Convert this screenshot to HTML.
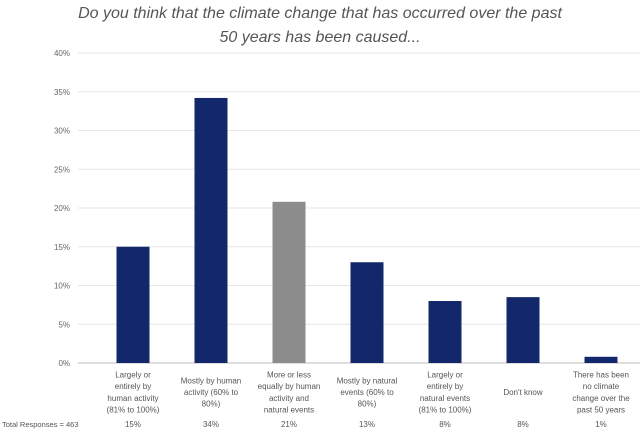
<!DOCTYPE html>
<html><head><meta charset="utf-8"><style>
body{margin:0;background:#fff;width:640px;height:433px;overflow:hidden;font-family:"Liberation Sans",sans-serif}
</style></head><body>
<svg id="chart" width="640" height="433" viewBox="0 0 640 433" xmlns="http://www.w3.org/2000/svg">
<text x="320" y="18" text-anchor="middle" font-size="16" font-style="italic" fill="#555">Do you think that the climate change that has occurred over the past</text>
<text x="320" y="42" text-anchor="middle" font-size="16" font-style="italic" fill="#555">50 years has been caused...</text>
<g id="grid"></g><g id="bars"></g><g id="labels"></g>
</svg>
<script>
const categories=[["Largely or","entirely by","human activity","(81% to 100%)"],["Mostly by human","activity (60% to","80%)"],["More or less","equally by human","activity and","natural events"],["Mostly by natural","events (60% to","80%)"],["Largely or","entirely by","natural events","(81% to 100%)"],["Don't know"],["There has been","no climate","change over the","past 50 years"]];
const values=[15,34.2,20.8,13,8,8.5,0.8];
const printed=["15%","34%","21%","13%","8%","8%","1%"];
const colors=["#13286a","#13286a","#8c8c8c","#13286a","#13286a","#13286a","#13286a"];
const ticks=[0,5,10,15,20,25,30,35,40];
const NS="http://www.w3.org/2000/svg";
const y0=363,pxPer=7.75,x0=94,cw=78,bw=33,lh=11.7;
const yS=v=>y0-v*pxPer, xC=i=>x0+cw*i+cw/2;
function mk(t,a,p){const e=document.createElementNS(NS,t);for(const k in a)e.setAttribute(k,a[k]);p.appendChild(e);return e;}
const g=document.getElementById('grid'),b=document.getElementById('bars'),l=document.getElementById('labels');
ticks.forEach(t=>{
 const ln=mk('line',{x1:78,x2:640,y1:yS(t),y2:yS(t),stroke:t===0?'#bbb':'#e6e6e6','stroke-width':1},g);
 
 
 const tx=mk('text',{x:70,y:yS(t)+3,'text-anchor':'end','font-size':8,fill:'#666'},g);tx.textContent=t+'%';
 
 
});
values.forEach((v,i)=>{
 const r=mk('rect',{x:xC(i)-bw/2,y:yS(v),width:bw,height:v*pxPer,fill:colors[i]},b);
 
 
 const t=mk('text',{'text-anchor':'middle','font-size':8,fill:'#555'},l);
 
 
 const n=categories[i].length,start=392-(n-1)*lh/2+3;
 categories[i].forEach((s,j)=>{const ts=mk('tspan',{x:xC(i),y:start+j*lh},t);ts.textContent=s;});
 const p=mk('text',{x:xC(i),y:427,'text-anchor':'middle','font-size':8,fill:'#555'},l);p.textContent=printed[i];
 
 
});
const tr=mk('text',{x:2,y:427,'font-size':7.5,fill:'#555'},l);tr.textContent="Total Responses = 463";


</script>
</body></html>
